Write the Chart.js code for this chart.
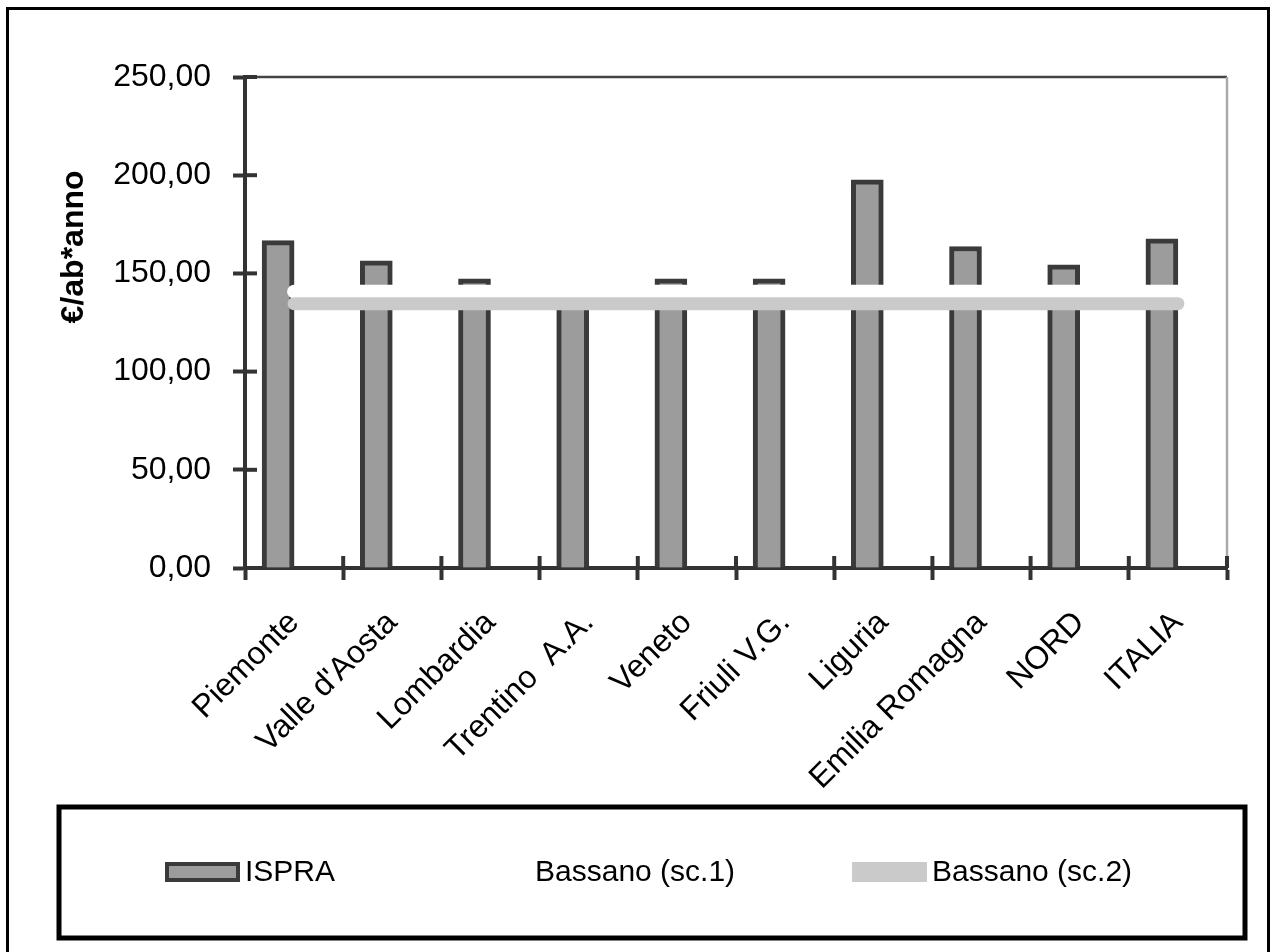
<!DOCTYPE html>
<html>
<head>
<meta charset="utf-8">
<title>ISPRA - Bassano</title>
<script src="https://cdn.jsdelivr.net/npm/chart.js@4.4.1/dist/chart.umd.min.js"></script>
<style>
  html, body { margin: 0; padding: 0; background: #fff; }
  #wrap { width: 1273px; height: 952px; }
</style>
</head>
<body>
<div id="wrap"><canvas id="chart"></canvas></div>
<script>
const categories = ["Piemonte", "Valle d'Aosta", "Lombardia", "Trentino  A.A.", "Veneto", "Friuli V.G.", "Liguria", "Emilia Romagna", "NORD", "ITALIA"];
const ispra = [166.7, 156.4, 147.2, 140.0, 147.2, 147.2, 197.6, 163.7, 154.4, 167.6];
const bassanoSc1 = [140.7, 140.7, 140.7, 140.7, 140.7, 140.7, 140.7, 140.7, 140.7, 140.7];
const bassanoSc2 = [134.6, 134.6, 134.6, 134.6, 134.6, 134.6, 134.6, 134.6, 134.6, 134.6];
// empty second bar slot, so the ISPRA bars sit left of the category centre like in Excel
const spacer = [null, null, null, null, null, null, null, null, null, null];
const yTicks = [0, 50, 100, 150, 200, 250];

const FONT = "'Liberation Sans', Arial, sans-serif";
const AXIS = "#333333";

// frame, inner tick halves, plot border and the boxed legend
const decorations = {
    id: "decorations",
    afterDraw(chart) {
        const ctx = chart.ctx;
        const area = chart.chartArea;
        const x = chart.scales.x;
        const y = chart.scales.y;
        ctx.save();

        // outer frame
        ctx.strokeStyle = "#000";
        ctx.lineWidth = 3;
        ctx.strokeRect(7.5, 8.5, 1261, 1000);

        // plot area top and right border
        ctx.lineWidth = 2.5;
        ctx.strokeStyle = "#444";
        ctx.beginPath();
        ctx.moveTo(area.left, area.top);
        ctx.lineTo(area.right, area.top);
        ctx.stroke();
        ctx.strokeStyle = "#aaaaaa";
        ctx.beginPath();
        ctx.moveTo(area.right, area.top);
        ctx.lineTo(area.right, area.bottom);
        ctx.stroke();

        // tick marks cross the axes
        ctx.strokeStyle = AXIS;
        ctx.lineWidth = 4;
        y.ticks.forEach(t => {
            const py = y.getPixelForValue(t.value);
            ctx.beginPath();
            ctx.moveTo(area.left, py);
            ctx.lineTo(area.left + 12, py);
            ctx.stroke();
        });
        const step = (area.right - area.left) / categories.length;
        for (let i = 0; i <= categories.length; i++) {
            const px = x.getPixelForValue(0) - step / 2 + i * step;
            ctx.beginPath();
            ctx.moveTo(px, area.bottom);
            ctx.lineTo(px, area.bottom - 12);
            ctx.stroke();
        }

        // legend box
        ctx.strokeStyle = "#000";
        ctx.lineWidth = 5;
        ctx.strokeRect(59, 807, 1186, 131);

        const slots = [165, 455, 852];
        const items = chart.data.datasets.filter(d => d.label);
        ctx.font = "30px " + FONT;
        ctx.textBaseline = "middle";
        ctx.textAlign = "left";
        items.forEach((ds, i) => {
            const sx = slots[i];
            if (ds.type === "line") {
                ctx.fillStyle = ds.borderColor;
                ctx.fillRect(sx, 862, 75, 20);
            } else {
                ctx.fillStyle = ds.borderColor;
                ctx.fillRect(sx, 862, 75, 20);
                ctx.fillStyle = ds.backgroundColor;
                ctx.fillRect(sx + 4, 866, 67, 12);
            }
            ctx.fillStyle = "#000";
            ctx.fillText(ds.label, sx + 80, 873);
        });

        ctx.restore();
    }
};

new Chart(document.getElementById("chart"), {
    type: "bar",
    data: {
        labels: categories,
        datasets: [
            {
                label: "ISPRA",
                data: ispra,
                backgroundColor: "#9c9c9c",
                borderColor: "#3a3a3a",
                borderWidth: { top: 5, left: 5, right: 5, bottom: 0 },
                barThickness: 32,
                order: 2
            },
            {
                type: "line",
                label: "Bassano (sc.1)",
                data: bassanoSc1,
                borderColor: "#ffffff",
                borderWidth: 14,
                borderCapStyle: "round",
                pointRadius: 0,
                order: 1
            },
            {
                type: "line",
                label: "Bassano (sc.2)",
                data: bassanoSc2,
                borderColor: "#cacaca",
                borderWidth: 13,
                borderCapStyle: "round",
                pointRadius: 0,
                order: 0
            },
            {
                data: spacer,
                barThickness: 32,
                order: 3
            }
        ]
    },
    options: {
        responsive: true,
        maintainAspectRatio: false,
        animation: false,
        layout: { padding: { left: 0, top: 77, right: 46, bottom: 0 } },
        plugins: {
            legend: { display: false },
            tooltip: { enabled: false }
        },
        scales: {
            x: {
                offset: true,
                grid: {
                    offset: true,
                    drawOnChartArea: false,
                    tickLength: 12,
                    tickWidth: 4,
                    tickColor: AXIS
                },
                border: { color: AXIS, width: 4 },
                ticks: {
                    color: "#000",
                    font: { family: FONT, size: 32 },
                    minRotation: 45,
                    maxRotation: 45,
                    autoSkip: false,
                    padding: 24
                },
                afterFit(scale) { scale.height = 952 - 568; }
            },
            y: {
                min: 0,
                max: 250,
                afterBuildTicks(scale) { scale.ticks = yTicks.map(v => ({ value: v })); },
                grid: {
                    drawOnChartArea: false,
                    tickLength: 12,
                    tickWidth: 4,
                    tickColor: AXIS
                },
                border: { color: AXIS, width: 4 },
                ticks: {
                    color: "#000",
                    font: { family: FONT, size: 32 },
                    padding: 22,
                    callback: v => v.toFixed(2).replace(".", ",")
                },
                title: {
                    display: true,
                    text: "                 €/ab*anno",
                    color: "#000",
                    font: { family: FONT, size: 32, weight: "bold" },
                    padding: { top: 55, bottom: 0 }
                },
                afterFit(scale) { scale.width = 245; }
            }
        }
    },
    plugins: [decorations]
});
</script>
</body>
</html>
